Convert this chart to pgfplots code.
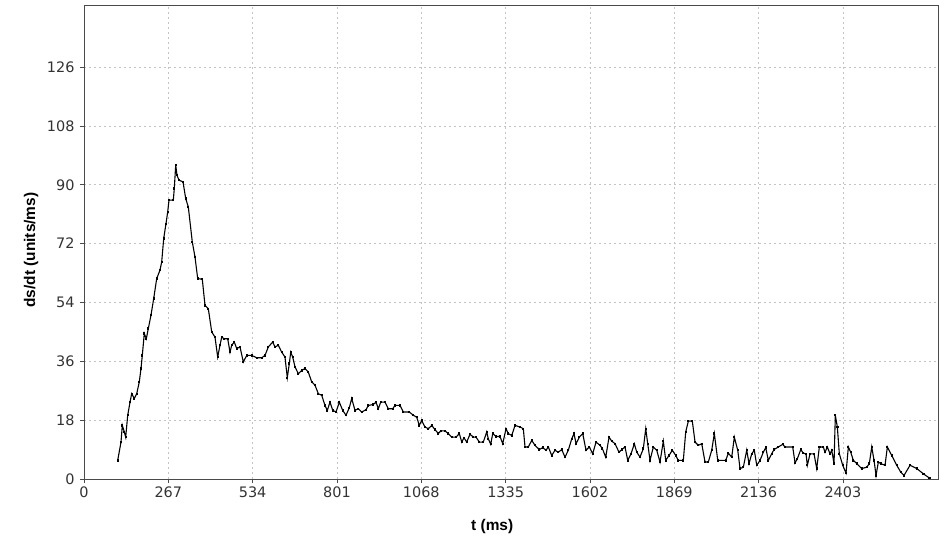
\documentclass[border=0pt]{standalone}
\usepackage{fontspec}
\setmainfont{Liberation Sans}
\newfontfamily\tickfont{DejaVu Sans}
\usepackage{pgfplots}
\pgfplotsset{compat=1.18}
\definecolor{framegray}{HTML}{4A4A4A}
\definecolor{gridgray}{HTML}{C4C4C4}
\definecolor{ticktext}{HTML}{333333}

\begin{document}
\begin{tikzpicture}
\begin{axis}[
    scale only axis,
    width=854bp, height=474bp,
    xmin=0, xmax=2704,
    ymin=0, ymax=145,
    xtick={0,267,...,2403},
    ytick={0,18,...,126},
    axis line style={framegray, line width=0.9bp},
    tick style={framegray, line width=0.8bp},
    tick pos=left,
    tick align=outside,
    major tick length=4bp,
    grid=major,
    major grid style={gridgray, dash pattern=on 2bp off 3bp, line width=0.6bp},
    ticklabel style={font=\tickfont\fontsize{14.5}{16}\selectfont, text=ticktext},
    yticklabel style={xshift=-2bp},
    /pgf/number format/assume math mode=true,
    /pgf/number format/set thousands separator={},
    xlabel={t (ms)},
    ylabel={ds/dt (units/ms)},
    label style={font=\bfseries\fontsize{15.5}{18}\selectfont},
    xlabel style={at={(axis description cs:0.478,-0.101)}, anchor=center},
    ylabel style={at={(axis description cs:-0.062,0.483)}, anchor=center},
]
\addplot[black, line width=1.1bp, mark=square*, mark size=0.6bp] coordinates {
(106.7,5.7)(117.2,11.3)(121.3,16.4)(127.6,14.4)(132.0,12.8)(138.4,19.5)
(145.7,23.5)(151.0,26.1)(159.3,24.6)(166.9,26.1)(175.1,29.7)(180.5,33.8)
(184.6,37.8)(190.9,44.5)(197.3,42.9)(203.6,46.0)(212.1,50.1)(220.7,55.2)
(230.2,61.3)(240.6,63.9)(246.0,66.4)(252.4,73.6)(259.6,78.1)(265.0,81.7)
(269.1,85.3)(282.8,85.3)(285.9,88.9)(290.4,96.0)(294.5,92.9)(300.8,91.4)
(313.5,90.9)(322.0,85.8)(330.3,83.2)(342.9,72.5)(351.5,67.9)(360.0,61.3)
(374.6,61.1)(383.1,53.1)(393.6,52.1)(404.4,45.0)(414.8,43.4)(423.3,37.3)
(430.6,40.9)(436.0,43.4)(444.2,42.9)(455.0,42.9)(462.3,38.8)(467.7,40.9)
(475.9,41.9)(483.5,39.9)(494.0,40.4)(504.4,35.8)(515.2,37.8)(531.0,37.8)
(546.8,37.1)(562.7,37.1)(573.1,37.8)(583.6,40.4)(597.5,41.9)(604.8,40.4)
(615.2,40.9)(626.0,38.8)(636.4,37.3)(643.7,31.0)(650.1,35.3)(654.5,38.8)
(660.8,37.3)(668.1,34.3)(678.6,32.2)(689.3,33.2)(699.8,33.8)(710.2,32.7)
(721.0,29.7)(731.4,28.7)(741.9,26.1)(752.7,25.6)(763.1,22.5)(770.4,21.0)
(778.9,23.5)(787.5,21.0)(797.9,20.5)(808.4,23.5)(819.1,21.0)(829.6,19.5)
(840.0,21.8)(847.6,24.6)(858.1,21.0)(868.5,21.5)(879.3,20.5)(892.9,21.2)
(900.2,22.5)(916.0,22.8)(924.6,23.5)(931.9,21.5)(939.5,23.5)(953.1,23.5)
(963.5,21.5)(977.5,21.5)(984.7,22.5)(1000.6,22.5)(1011.0,20.5)(1030.0,20.5)
(1042.7,19.5)(1053.5,18.9)(1061.7,16.4)(1069.3,17.9)(1079.7,15.9)(1090.2,15.4)
(1101.0,16.4)(1111.4,15.1)(1121.9,13.9)(1129.5,14.7)(1143.1,14.7)(1153.5,13.9)
(1164.3,12.8)(1177.9,12.8)(1188.4,13.9)(1196.0,11.3)(1203.2,12.6)(1211.8,11.3)
(1222.2,13.7)(1232.7,12.8)(1241.2,12.8)(1251.7,11.3)(1264.3,11.3)(1275.1,14.4)
(1280.2,12.3)(1287.8,10.6)(1294.1,13.9)(1304.6,13.0)(1317.2,13.0)(1325.8,10.8)
(1336.2,15.4)(1343.5,13.9)(1354.3,13.3)(1364.7,16.4)(1380.6,15.9)(1391.0,15.4)
(1396.4,9.8)(1406.8,9.8)(1417.6,11.8)(1428.0,10.3)(1441.7,9.0)(1452.4,9.6)
(1462.9,8.8)(1470.2,9.8)(1480.9,7.2)(1491.4,8.8)(1501.8,8.2)(1512.6,9.0)
(1523.0,6.7)(1533.5,8.8)(1544.3,12.3)(1551.5,13.9)(1557.9,10.8)(1568.3,12.8)
(1579.1,13.9)(1589.5,8.8)(1600.0,9.8)(1610.7,7.7)(1621.2,11.3)(1633.9,10.3)
(1641.2,9.3)(1651.9,6.7)(1662.4,12.8)(1670.9,11.6)(1681.4,10.8)(1694.0,8.2)
(1702.6,9.0)(1713.0,9.8)(1721.6,5.7)(1732.0,7.7)(1742.5,10.8)(1750.1,8.2)
(1760.5,6.7)(1771.0,9.3)(1778.6,15.4)(1784.9,10.8)(1792.2,5.7)(1802.6,9.8)
(1813.4,8.8)(1823.8,5.2)(1834.3,11.6)(1841.9,5.7)(1852.3,7.2)(1862.8,8.8)
(1873.6,7.2)(1881.8,5.7)(1897.6,5.7)(1905.2,14.4)(1913.5,17.7)(1926.1,17.7)
(1934.7,11.3)(1945.1,10.3)(1955.9,10.8)(1966.3,5.2)(1976.8,5.2)(1987.5,8.8)
(1995.8,13.9)(2006.6,5.7)(2031.9,5.7)(2040.1,7.9)(2050.9,6.7)(2059.1,12.8)
(2069.9,8.8)(2077.2,3.2)(2087.6,3.6)(2098.4,8.8)(2105.7,4.7)(2114.2,7.7)
(2122.4,8.8)(2130.0,4.2)(2140.5,5.7)(2150.9,8.2)(2158.5,9.6)(2166.8,5.7)
(2177.5,7.7)(2184.8,9.0)(2198.4,9.8)(2212.4,10.6)(2219.6,9.8)(2244.0,9.8)
(2251.3,4.9)(2258.6,6.2)(2269.4,9.0)(2277.6,7.9)(2286.1,7.7)(2290.3,4.2)
(2298.8,7.7)(2311.5,7.7)(2320.0,3.2)(2328.3,9.8)(2340.9,9.8)(2346.3,8.2)
(2353.6,9.8)(2362.1,7.7)(2367.5,8.8)(2374.8,4.7)(2378.9,19.5)(2385.3,15.9)
(2391.6,7.7)(2402.3,4.2)(2412.8,1.8)(2420.1,9.8)(2427.7,8.2)(2435.9,5.7)
(2446.7,4.7)(2462.5,3.2)(2478.3,3.6)(2486.6,4.7)(2494.2,9.8)(2501.5,5.7)
(2507.8,1.1)(2515.1,5.2)(2522.7,4.7)(2536.3,4.2)(2543.6,9.8)(2557.5,7.2)
(2573.3,4.2)(2586.0,2.1)(2596.4,1.1)(2615.4,4.2)(2636.7,3.2)(2657.6,1.6)
(2676.6,0.3)
};
\end{axis}
\pgfresetboundingbox
\path ([xshift=-84bp,yshift=-59bp]current axis.south west)
    rectangle ([xshift=7bp,yshift=5bp]current axis.north east);
\end{tikzpicture}
\end{document}
